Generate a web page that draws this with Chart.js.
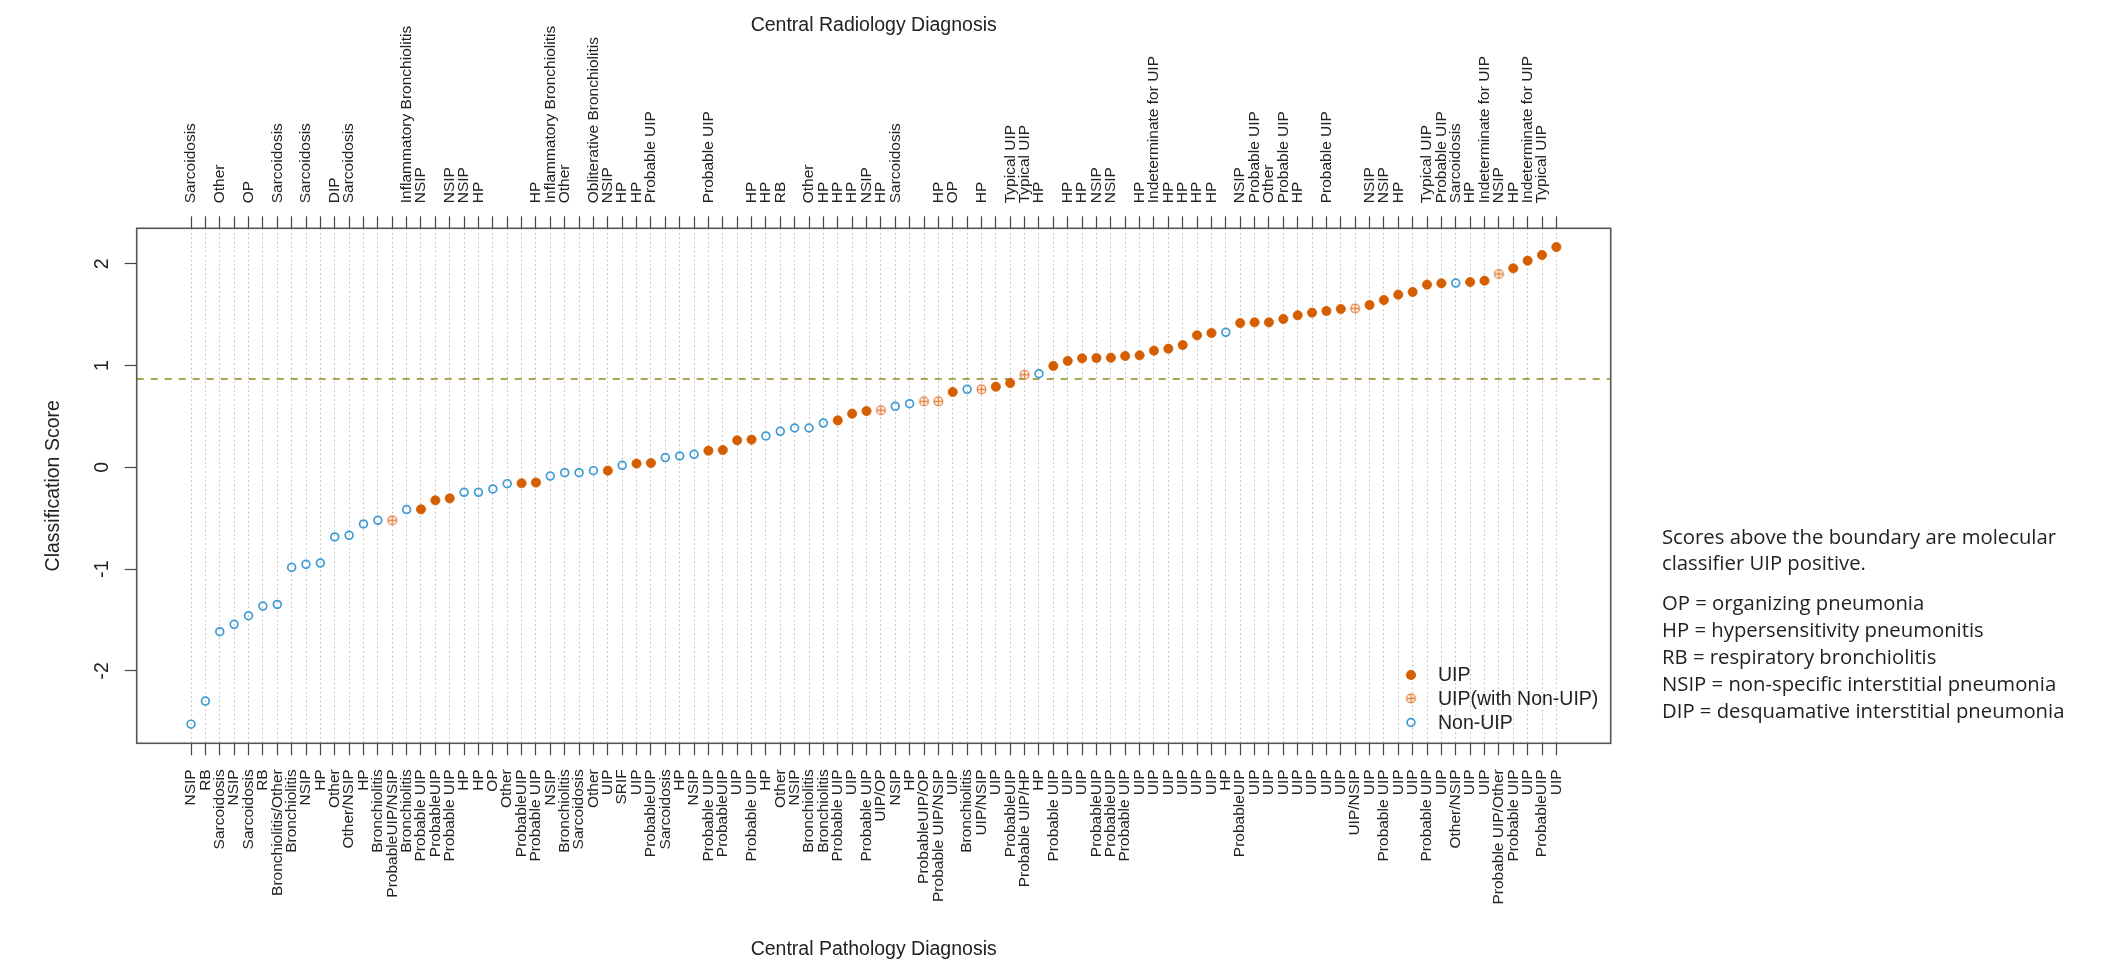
<!DOCTYPE html>
<html>
<head>
<meta charset="utf-8">
<script src="https://cdn.jsdelivr.net/npm/chart.js@4.4.1/dist/chart.umd.min.js"></script>
<style>
  html, body { margin: 0; padding: 0; background: #fff; }
  #wrap { width: 2110px; height: 965px; }
</style>
</head>
<body>
<div id="wrap"><canvas id="scoreChart" width="2110" height="965"></canvas></div>
<script>
// pathology diagnosis per sample, sorted by score (bottom axis)
const pathologyLabels = [
  "NSIP", "RB", "Sarcoidosis", "NSIP", "Sarcoidosis", "RB", "Bronchiolitis/Other", "Bronchiolitis", "NSIP", "HP",
  "Other", "Other/NSIP", "HP", "Bronchiolitis", "ProbableUIP/NSIP", "Bronchiolitis", "Probable UIP", "ProbableUIP", "Probable UIP", "HP",
  "HP", "OP", "Other", "ProbableUIP", "Probable UIP", "NSIP", "Bronchiolitis", "Sarcoidosis", "Other", "UIP",
  "SRIF", "UIP", "ProbableUIP", "Sarcoidosis", "HP", "NSIP", "Probable UIP", "ProbableUIP", "UIP", "Probable UIP",
  "HP", "Other", "NSIP", "Bronchiolitis", "Bronchiolitis", "Probable UIP", "UIP", "Probable UIP", "UIP/OP", "NSIP",
  "HP", "ProbableUIP/OP", "Probable UIP/NSIP", "UIP", "Bronchiolitis", "UIP/NSIP", "UIP", "ProbableUIP", "Probable UIP/HP", "HP",
  "Probable UIP", "UIP", "UIP", "ProbableUIP", "ProbableUIP", "Probable UIP", "UIP", "UIP", "UIP", "UIP",
  "UIP", "UIP", "HP", "ProbableUIP", "UIP", "UIP", "UIP", "UIP", "UIP", "UIP",
  "UIP", "UIP/NSIP", "UIP", "Probable UIP", "UIP", "UIP", "Probable UIP", "UIP", "Other/NSIP", "UIP",
  "UIP", "Probable UIP/Other", "Probable UIP", "UIP", "ProbableUIP", "UIP"
];

// radiology diagnosis per sample (top axis), blank where none
const radiologyLabels = [
  "Sarcoidosis", "", "Other", "", "OP", "", "Sarcoidosis", "", "Sarcoidosis", "",
  "DIP", "Sarcoidosis", "", "", "", "Inflammatory Bronchiolitis", "NSIP", "", "NSIP", "NSIP",
  "HP", "", "", "", "HP", "Inflammatory Bronchiolitis", "Other", "", "Obliterative Bronchiolitis", "NSIP",
  "HP", "HP", "Probable UIP", "", "", "", "Probable UIP", "", "", "HP",
  "HP", "RB", "", "Other", "HP", "HP", "HP", "NSIP", "HP", "Sarcoidosis",
  "", "", "HP", "OP", "", "HP", "", "Typical UIP", "Typical UIP", "HP",
  "", "HP", "HP", "NSIP", "NSIP", "", "HP", "Indeterminate for UIP", "HP", "HP",
  "HP", "HP", "", "NSIP", "Probable UIP", "Other", "Probable UIP", "HP", "", "Probable UIP",
  "", "", "NSIP", "NSIP", "HP", "", "Typical UIP", "Probable UIP", "Sarcoidosis", "HP",
  "Indeterminate for UIP", "NSIP", "HP", "Indeterminate for UIP", "Typical UIP", ""
];

const scores = [
  -2.525, -2.298, -1.616, -1.544, -1.459, -1.364, -1.348, -0.984, -0.954, -0.941,
  -0.685, -0.669, -0.557, -0.521, -0.521, -0.416, -0.413, -0.325, -0.305, -0.246,
  -0.246, -0.213, -0.161, -0.157, -0.150, -0.086, -0.053, -0.053, -0.033, -0.033,
  0.019, 0.036, 0.042, 0.095, 0.111, 0.127, 0.163, 0.170, 0.265, 0.272,
  0.308, 0.353, 0.386, 0.386, 0.435, 0.461, 0.527, 0.553, 0.560, 0.599,
  0.625, 0.648, 0.648, 0.740, 0.766, 0.766, 0.792, 0.828, 0.910, 0.920,
  0.996, 1.045, 1.071, 1.074, 1.077, 1.094, 1.100, 1.146, 1.166, 1.202,
  1.297, 1.320, 1.327, 1.418, 1.425, 1.425, 1.458, 1.494, 1.520, 1.536,
  1.556, 1.562, 1.595, 1.644, 1.697, 1.723, 1.795, 1.808, 1.811, 1.821,
  1.834, 1.900, 1.956, 2.031, 2.087, 2.165
];

// U = UIP, W = UIP(with Non-UIP), N = Non-UIP
const pointGroup = [
  "N", "N", "N", "N", "N", "N", "N", "N", "N", "N",
  "N", "N", "N", "N", "W", "N", "U", "U", "U", "N",
  "N", "N", "N", "U", "U", "N", "N", "N", "N", "U",
  "N", "U", "U", "N", "N", "N", "U", "U", "U", "U",
  "N", "N", "N", "N", "N", "U", "U", "U", "W", "N",
  "N", "W", "W", "U", "N", "W", "U", "U", "W", "N",
  "U", "U", "U", "U", "U", "U", "U", "U", "U", "U",
  "U", "U", "N", "U", "U", "U", "U", "U", "U", "U",
  "U", "W", "U", "U", "U", "U", "U", "U", "N", "U",
  "U", "W", "U", "U", "U", "U"
];

const groupNames = ["UIP", "UIP(with Non-UIP)", "Non-UIP"];
const boundary = 0.868;
const yTicks = [-2, -1, 0, 1, 2];

const noteLines = [
  "Scores above the boundary are molecular",
  "classifier UIP positive.",
  "OP = organizing pneumonia",
  "HP = hypersensitivity pneumonitis",
  "RB = respiratory bronchiolitis",
  "NSIP = non-specific interstitial pneumonia",
  "DIP = desquamative interstitial pneumonia"
];

const FONT = '"Liberation Sans", Arial, Helvetica, sans-serif';
const UIP_COLOR = "#D55E00";
const MIX_COLOR = "#E5803F";
const NON_COLOR = "#3E9BD3";

const positions = scores.map((_, i) => i + 1);
const xPad = 3.78;
const xMin = 1 - xPad;
const xMax = scores.length + xPad;

function pointsFor(code) {
  return scores
    .map((s, i) => (pointGroup[i] === code ? { x: i + 1, y: s } : null))
    .filter(Boolean);
}

function makeMixMarker() {
  const c = document.createElement("canvas");
  c.width = 13;
  c.height = 13;
  const g = c.getContext("2d");
  g.strokeStyle = MIX_COLOR;
  g.lineWidth = 1.3;
  g.beginPath();
  g.arc(6.5, 6.5, 4.3, 0, Math.PI * 2);
  g.stroke();
  g.beginPath();
  g.moveTo(2.2, 6.5); g.lineTo(10.8, 6.5);
  g.moveTo(6.5, 2.2); g.lineTo(6.5, 10.8);
  g.stroke();
  return c;
}
const mixMarker = makeMixMarker();

// box round the plot
const framePlugin = {
  id: "frame",
  afterDraw(chart) {
    const { ctx, chartArea: a } = chart;
    ctx.save();
    ctx.strokeStyle = "#555";
    ctx.lineWidth = 1.6;
    ctx.strokeRect(a.left, a.top, a.right - a.left, a.bottom - a.top);
    ctx.restore();
  }
};

const legendPlugin = {
  id: "pointLegend",
  afterDraw(chart) {
    const { ctx } = chart;
    const mx = 1411, tx = 1438, rows = [675, 698.5, 722.5];
    ctx.save();
    ctx.font = "19.5px " + FONT;
    ctx.fillStyle = "#222";
    ctx.textBaseline = "middle";
    groupNames.forEach((name, i) => ctx.fillText(name, tx, rows[i] + 1));
    ctx.fillStyle = UIP_COLOR;
    ctx.beginPath();
    ctx.arc(mx, rows[0], 5, 0, Math.PI * 2);
    ctx.fill();
    ctx.drawImage(mixMarker, mx - 6.5, rows[1] - 6.5);
    ctx.strokeStyle = NON_COLOR;
    ctx.lineWidth = 1.7;
    ctx.beginPath();
    ctx.arc(mx, rows[2], 3.9, 0, Math.PI * 2);
    ctx.stroke();
    ctx.restore();
  }
};

const notesPlugin = {
  id: "notes",
  afterDraw(chart) {
    const { ctx } = chart;
    const ys = [538, 564, 604, 631, 658, 685, 712];
    ctx.save();
    ctx.font = '20.3px "Open Sans", Lato, sans-serif';
    ctx.fillStyle = "#222";
    ctx.textBaseline = "middle";
    noteLines.forEach((t, i) => ctx.fillText(t, 1662, ys[i]));
    ctx.restore();
  }
};

const tickFont = { family: FONT, size: 15.5 };
const bigFont = { family: FONT, size: 19.5 };

new Chart(document.getElementById("scoreChart").getContext("2d"), {
  type: "scatter",
  data: {
    datasets: [
      {
        label: "boundary",
        type: "line",
        data: [{ x: xMin, y: boundary }, { x: xMax, y: boundary }],
        borderColor: "#A39A3C",
        borderWidth: 1.8,
        borderDash: [7, 7],
        pointRadius: 0,
        order: 5
      },
      {
        label: groupNames[0],
        data: pointsFor("U"),
        pointStyle: "circle",
        pointRadius: 4.6,
        backgroundColor: UIP_COLOR,
        borderColor: UIP_COLOR,
        borderWidth: 0.8,
        order: 1
      },
      {
        label: groupNames[1],
        data: pointsFor("W"),
        pointStyle: mixMarker,
        pointRadius: 5,
        order: 1
      },
      {
        label: groupNames[2],
        data: pointsFor("N"),
        pointStyle: "circle",
        pointRadius: 3.9,
        backgroundColor: "rgba(255,255,255,0)",
        borderColor: NON_COLOR,
        borderWidth: 1.7,
        order: 1
      }
    ]
  },
  options: {
    responsive: false,
    animation: false,
    layout: { padding: { left: 42.3, right: 499.3, top: 14, bottom: 0 } },
    plugins: {
      legend: { display: false },
      tooltip: { enabled: false }
    },
    scales: {
      x: {
        type: "linear",
        position: "bottom",
        min: xMin,
        max: xMax,
        afterBuildTicks: s => { s.ticks = positions.map(v => ({ value: v })); },
        afterFit: s => { s.height = 221.7; },
        ticks: {
          autoSkip: false,
          minRotation: 90,
          maxRotation: 90,
          padding: 14,
          font: tickFont,
          color: "#222",
          callback: (v, i) => pathologyLabels[i]
        },
        grid: {
          drawOnChartArea: true,
          color: "#b8b8b8",
          lineWidth: 1,
          tickLength: 12,
          tickColor: "#444",
          tickWidth: 1.2
        },
        border: { display: false, dash: [1.5, 3] },
        title: {
          display: true,
          text: "Central Pathology Diagnosis",
          font: bigFont,
          color: "#222",
          padding: { top: 0, bottom: 3.3 }
        }
      },
      x2: {
        type: "linear",
        axis: "x",
        position: "top",
        min: xMin,
        max: xMax,
        afterBuildTicks: s => { s.ticks = positions.map(v => ({ value: v })); },
        afterFit: s => { s.height = 214.3; },
        ticks: {
          autoSkip: false,
          minRotation: 90,
          maxRotation: 90,
          padding: 13,
          labelOffset: 15.5 * 1.2,
          font: tickFont,
          color: "#222",
          callback: (v, i) => radiologyLabels[i]
        },
        grid: {
          drawOnChartArea: false,
          tickLength: 12,
          tickColor: "#444",
          tickWidth: 1.2
        },
        border: { display: false },
        title: {
          display: true,
          text: "Central Radiology Diagnosis",
          font: bigFont,
          color: "#222",
          padding: { top: 0, bottom: 0 }
        }
      },
      y: {
        type: "linear",
        min: -2.713,
        max: 2.349,
        afterBuildTicks: s => { s.ticks = yTicks.map(v => ({ value: v })); },
        afterFit: s => { s.width = 94.4; },
        ticks: {
          minRotation: 90,
          maxRotation: 90,
          crossAlign: "center",
          padding: 13,
          font: bigFont,
          color: "#222"
        },
        grid: {
          drawOnChartArea: false,
          tickLength: 12,
          tickColor: "#444",
          tickWidth: 1.2
        },
        border: { display: false },
        title: {
          display: true,
          text: "Classification Score",
          font: bigFont,
          color: "#222",
          padding: { top: 0, bottom: 0 }
        }
      }
    }
  },
  plugins: [framePlugin, legendPlugin, notesPlugin]
});
</script>
</body>
</html>
